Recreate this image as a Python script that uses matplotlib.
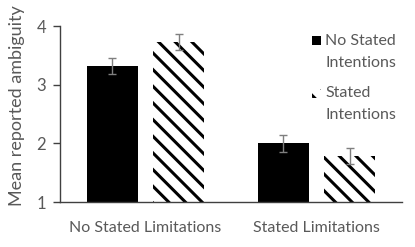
import matplotlib
matplotlib.use("Agg")
import matplotlib.pyplot as plt
from matplotlib.patches import Rectangle
import numpy as np

categories = ["No Stated Limitations", "Stated Limitations"]
series_names = ["No Stated\nIntentions", "Stated\nIntentions"]
no_intent_vals = [3.32, 2.00]
no_intent_err = [0.14, 0.14]
intent_vals = [3.73, 1.78]
intent_err = [0.14, 0.14]
yticks = [1, 2, 3, 4]

plt.rcParams['font.family'] = ['Lato', 'DejaVu Sans']
plt.rcParams['hatch.linewidth'] = 2.2
plt.rcParams['hatch.color'] = 'black'

TXT = '#595959'
fig = plt.figure(figsize=(4.15, 2.47), dpi=100)
ax = fig.add_axes([60/415, 45/247, 342/415, 176/247])

x = np.arange(len(categories))
w = 0.30
off = 0.195
ax.bar(x - off, [v - 1 for v in no_intent_vals], w, bottom=1, color='black', edgecolor='none')
ax.bar(x + off, [v - 1 for v in intent_vals], w, bottom=1, color='white', edgecolor='black',
       linewidth=0, hatch='\\\\')
ax.errorbar(x - off, no_intent_vals, yerr=no_intent_err, fmt='none', ecolor='#7f7f7f', elinewidth=1, capsize=3, capthick=1)
ax.errorbar(x + off, intent_vals, yerr=intent_err, fmt='none', ecolor='#7f7f7f', elinewidth=1, capsize=3, capthick=1)

ax.set_xlim(-0.5, 1.5)
ax.set_ylim(1, 4)
ax.set_yticks(yticks)
ax.set_yticklabels([str(t) for t in yticks], color=TXT, fontsize=12)
ax.set_xticks(x)
ax.set_xticklabels(categories, color=TXT, fontsize=11.5)
ax.tick_params(axis='x', length=0, pad=14)
ax.tick_params(axis='y', length=5, width=1, color='#404040', pad=5)
for s in ['top', 'right']:
    ax.spines[s].set_visible(False)
for s in ['left', 'bottom']:
    ax.spines[s].set_color('#404040')
    ax.spines[s].set_linewidth(1)
ax.set_ylabel("Mean reported ambiguity", color=TXT, fontsize=13)
ax.yaxis.set_label_coords(-0.102, 0.545)

# legend
fs = 11.5
fig.patches.append(Rectangle((312/415, 1 - 45/247), 9/415, 9/247, transform=fig.transFigure,
                             facecolor='black', edgecolor='none', figure=fig))
fig.patches.append(Rectangle((312/415, 1 - 98/247), 9/415, 9/247, transform=fig.transFigure,
                             facecolor='white', edgecolor='black', linewidth=0, hatch='\\\\', figure=fig))
fig.text(325/415, 1 - 34/247, series_names[0], color=TXT, fontsize=fs, va='top', ha='left',
         linespacing=1.75, transform=fig.transFigure)
fig.text(325/415, 1 - 86/247, series_names[1], color=TXT, fontsize=fs, va='top', ha='left',
         linespacing=1.75, transform=fig.transFigure)

fig.savefig("out.png", dpi=100)
